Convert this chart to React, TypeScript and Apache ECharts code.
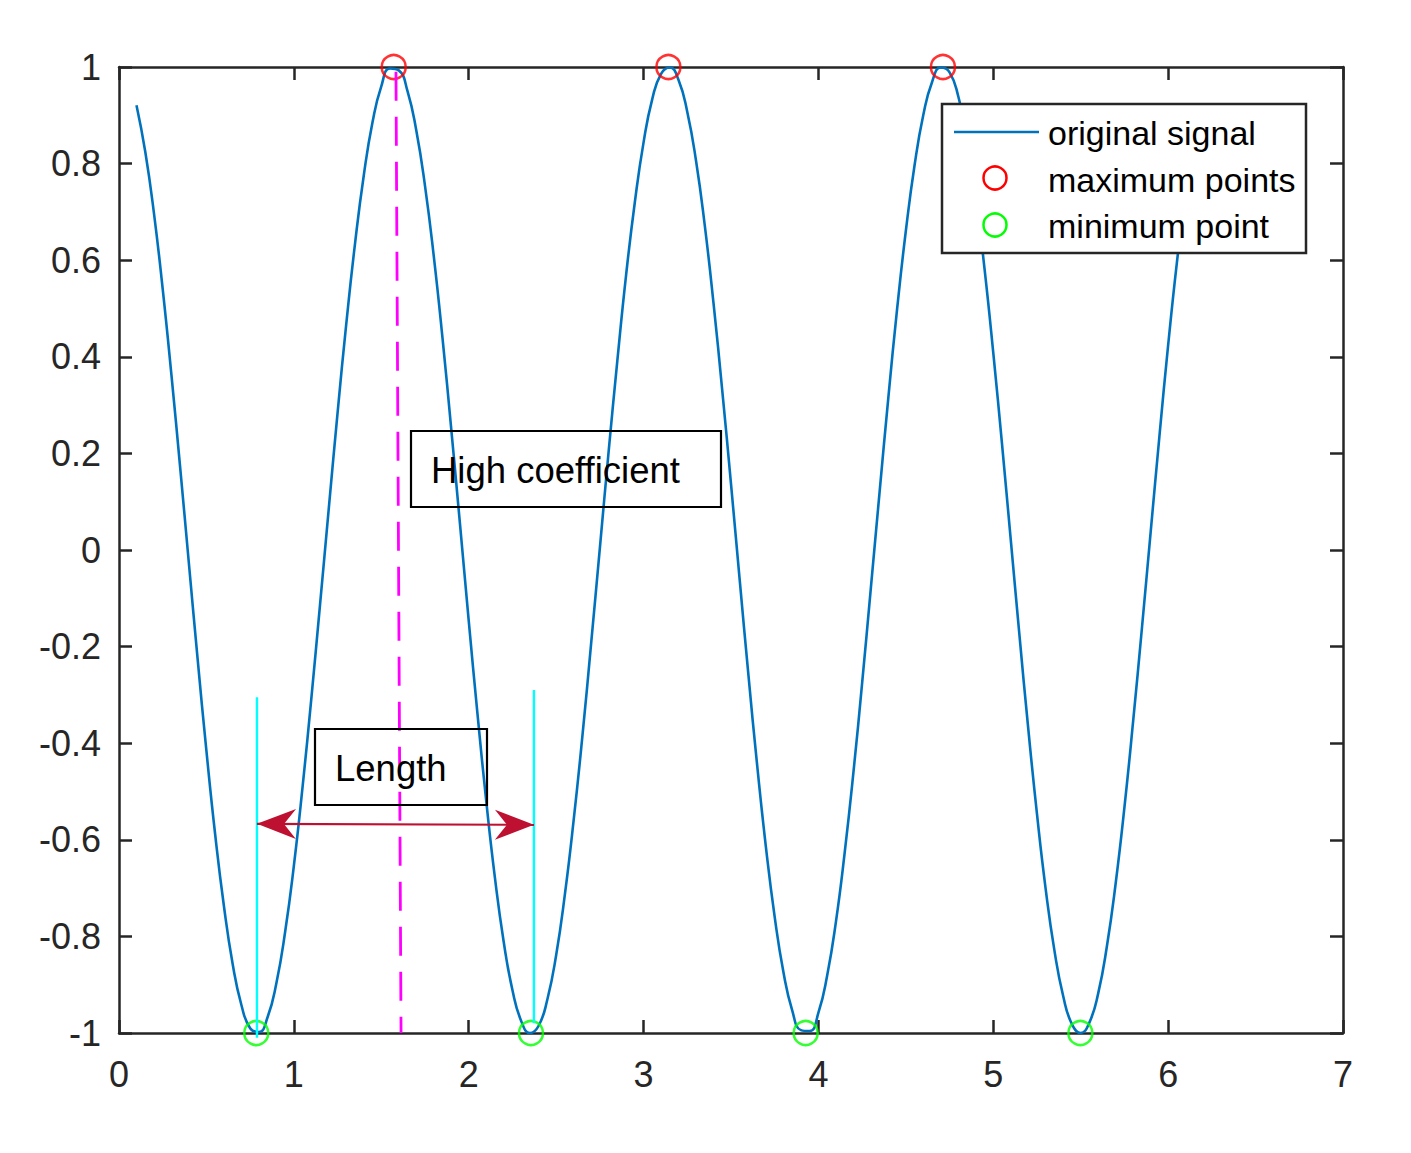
import React, { useEffect, useRef } from "react";
import * as echarts from "echarts";

// ---- data ----
const X_TICKS_MIN = 0;
const X_TICKS_MAX = 7;
const Y_MIN = -1;
const Y_MAX = 1;

// original signal, sampled every 0.05 starting at x = 0.1
const SIGNAL_X0 = 0.1;
const SIGNAL_DX = 0.05;
const SIGNAL_Y = [
  0.921, 0.825, 0.697, 0.540, 0.362, 0.170, -0.029, -0.227, -0.416, -0.589,
  -0.737, -0.857, -0.942, -0.990, -0.998, -0.967, -0.897, -0.791, -0.654, -0.490,
  -0.307, -0.112, 0.087, 0.284, 0.469, 0.635, 0.776, 0.886, 0.960, 0.997,
  0.993, 0.950, 0.869, 0.754, 0.609, 0.439, 0.251, 0.054, -0.146, -0.339,
  -0.519, -0.679, -0.811, -0.911, -0.975, -1.000, -0.985, -0.930, -0.839, -0.713,
  -0.560, -0.386, -0.194, 0.004, 0.203, 0.392, 0.569, 0.720, 0.844, 0.934,
  0.986, 0.999, 0.973, 0.907, 0.806, 0.672, 0.511, 0.330, 0.137, -0.063,
  -0.260, -0.447, -0.616, -0.760, -0.874, -0.953, -0.994, -0.996, -0.958, -0.881,
  -0.770, -0.627, -0.461, -0.275, -0.078, 0.121, 0.316, 0.499, 0.661, 0.797,
  0.901, 0.969, 0.999, 0.989, 0.939, 0.853, 0.732, 0.582, 0.408, 0.219,
  0.021, -0.178, -0.370, -0.547, -0.703, -0.830, -0.924, -0.982, -1.000, -0.978,
  -0.918, -0.820, -0.690, -0.533, -0.354, -0.162, 0.037, 0.235, 0.424, 0.595,
  0.743, 0.861,
];

const MAX_X = [1.571, 3.142, 4.712];
const MAX_Y = [1, 1, 1];
const MIN_X = [0.785, 2.356, 3.927, 5.498];
const MIN_Y = [-1, -1, -1, -1];

// annotation lines (data coordinates)
const CYAN_LINE_1 = [[0.789, -1.01], [0.789, -0.305]];
const CYAN_LINE_2 = [[2.373, -0.98], [2.373, -0.29]];
const MAGENTA_LINE = [[1.584, 0.99], [1.613, -1.0]];
const ARROW = [[0.789, -0.567, 2.373, -0.569]];

const LEGEND_LABELS = ["original signal", "maximum points", "minimum point"];
const NOTE_HIGH = "High coefficient";
const NOTE_LENGTH = "Length";

const FONT = '"Liberation Sans", Arial, Helvetica, sans-serif';
const AXIS_COLOR = "#262626";
const BLUE = "#0072BD";
const ARROW_COLOR = "#BE1030";

export default function App() {
  const ref = useRef<HTMLDivElement>(null);

  useEffect(() => {
    if (!ref.current) return;
    const chart = echarts.init(ref.current, undefined, { renderer: "svg" });

    const signal = SIGNAL_Y.map((y, i) => [SIGNAL_X0 + i * SIGNAL_DX, y]);
    const maxPts = MAX_X.map((x, i) => [x, MAX_Y[i]]);
    const minPts = MIN_X.map((x, i) => [x, MIN_Y[i]]);

    const axisLineStyle = { color: AXIS_COLOR, width: 2.5 };
    const baseX = {
      type: "value" as const,
      min: X_TICKS_MIN,
      max: X_TICKS_MAX,
      interval: 1,
      splitLine: { show: false },
      axisLine: { show: true, onZero: false, lineStyle: axisLineStyle },
      axisTick: { show: true, inside: true, length: 13, lineStyle: axisLineStyle },
    };
    const baseY = {
      type: "value" as const,
      min: Y_MIN,
      max: Y_MAX,
      interval: 0.2,
      splitLine: { show: false },
      axisLine: { show: true, onZero: false, lineStyle: axisLineStyle },
      axisTick: { show: true, inside: true, length: 13, lineStyle: axisLineStyle },
    };

    const arrowRender = (params: any, api: any) => {
      const a = api.coord([api.value(0), api.value(1)]);
      const b = api.coord([api.value(2), api.value(3)]);
      const dx = b[0] - a[0];
      const dy = b[1] - a[1];
      const len = Math.hypot(dx, dy) || 1;
      const ux = dx / len;
      const uy = dy / len;
      const nx = -uy;
      const ny = ux;
      const L = 39;
      const W = 15;
      const N = 27;
      const head = (t: number[], d: number[]) => [
        [t[0], t[1]],
        [t[0] + d[0] * L + nx * W, t[1] + d[1] * L + ny * W],
        [t[0] + d[0] * N, t[1] + d[1] * N],
        [t[0] + d[0] * L - nx * W, t[1] + d[1] * L - ny * W],
      ];
      return {
        type: "group",
        children: [
          {
            type: "line",
            shape: { x1: a[0], y1: a[1], x2: b[0], y2: b[1] },
            style: { stroke: ARROW_COLOR, lineWidth: 2.2 },
          },
          { type: "polygon", shape: { points: head(a, [ux, uy]) }, style: { fill: ARROW_COLOR } },
          { type: "polygon", shape: { points: head(b, [-ux, -uy]) }, style: { fill: ARROW_COLOR } },
        ],
      };
    };

    const option: any = {
      animation: false,
      backgroundColor: "#ffffff",
      grid: { left: 119, top: 67, width: 1224, height: 966, containLabel: false },
      xAxis: [
        {
          ...baseX,
          position: "bottom",
          axisLabel: { show: true, fontSize: 36, color: AXIS_COLOR, fontFamily: FONT, margin: 23 },
        },
        { ...baseX, position: "top", axisLabel: { show: false } },
      ],
      yAxis: [
        {
          ...baseY,
          position: "left",
          axisLabel: {
            show: true,
            fontSize: 36,
            color: AXIS_COLOR,
            fontFamily: FONT,
            margin: 18,
            formatter: (v: number) => String(Math.round(v * 10) / 10),
          },
        },
        { ...baseY, position: "right", axisLabel: { show: false } },
      ],
      series: [
        {
          name: LEGEND_LABELS[0],
          type: "line",
          data: signal,
          smooth: 0.5,
          showSymbol: false,
          lineStyle: { color: BLUE, width: 2.6 },
          itemStyle: { color: BLUE },
          z: 2,
        },
        {
          name: LEGEND_LABELS[1],
          type: "scatter",
          data: maxPts,
          symbol: "circle",
          symbolSize: 24,
          itemStyle: { color: "rgba(0,0,0,0)", borderColor: "#FF0000", borderWidth: 2.5 },
          z: 3,
        },
        {
          name: LEGEND_LABELS[2],
          type: "scatter",
          data: minPts,
          symbol: "circle",
          symbolSize: 24,
          itemStyle: { color: "rgba(0,0,0,0)", borderColor: "#00FF00", borderWidth: 2.5 },
          z: 3,
        },
        {
          type: "line",
          data: CYAN_LINE_1,
          showSymbol: false,
          clip: false,
          lineStyle: { color: "#00FFFF", width: 2.4 },
          z: 4,
        },
        {
          type: "line",
          data: CYAN_LINE_2,
          showSymbol: false,
          clip: false,
          lineStyle: { color: "#00FFFF", width: 2.4 },
          z: 4,
        },
        {
          type: "line",
          data: MAGENTA_LINE,
          showSymbol: false,
          lineStyle: { color: "#FF00FF", width: 2.8, type: [29, 16] },
          z: 4,
        },
        {
          type: "custom",
          data: ARROW,
          clip: false,
          silent: true,
          renderItem: arrowRender,
          z: 5,
        },
      ],
      graphic: [
        // text annotations (figure coordinates)
        {
          type: "rect",
          z: 10,
          shape: { x: 411, y: 431, width: 310, height: 76 },
          style: { fill: "none", stroke: "#000000", lineWidth: 2.2 },
        },
        {
          type: "text",
          z: 10,
          x: 431,
          y: 470,
          style: { text: NOTE_HIGH, font: `36.5px ${FONT}`, fill: "#000000", verticalAlign: "middle", align: "left" },
        },
        {
          type: "rect",
          z: 10,
          shape: { x: 315, y: 729, width: 172, height: 76 },
          style: { fill: "none", stroke: "#000000", lineWidth: 2.2 },
        },
        {
          type: "text",
          z: 10,
          x: 335,
          y: 768,
          style: { text: NOTE_LENGTH, font: `36.5px ${FONT}`, fill: "#000000", verticalAlign: "middle", align: "left" },
        },
        // legend
        {
          type: "rect",
          z: 20,
          shape: { x: 942, y: 104, width: 364, height: 149 },
          style: { fill: "#ffffff", stroke: AXIS_COLOR, lineWidth: 2.5 },
        },
        {
          type: "line",
          z: 21,
          shape: { x1: 954, y1: 132, x2: 1039, y2: 132 },
          style: { stroke: BLUE, lineWidth: 2.6 },
        },
        {
          type: "circle",
          z: 21,
          shape: { cx: 995, cy: 178, r: 11.5 },
          style: { fill: "none", stroke: "#FF0000", lineWidth: 2.5 },
        },
        {
          type: "circle",
          z: 21,
          shape: { cx: 995, cy: 225, r: 11.5 },
          style: { fill: "none", stroke: "#00FF00", lineWidth: 2.5 },
        },
        {
          type: "text",
          z: 21,
          x: 1048,
          y: 133,
          style: { text: LEGEND_LABELS[0], font: `34px ${FONT}`, fill: "#000000", verticalAlign: "middle" },
        },
        {
          type: "text",
          z: 21,
          x: 1048,
          y: 180,
          style: { text: LEGEND_LABELS[1], font: `34px ${FONT}`, fill: "#000000", verticalAlign: "middle" },
        },
        {
          type: "text",
          z: 21,
          x: 1048,
          y: 226,
          style: { text: LEGEND_LABELS[2], font: `34px ${FONT}`, fill: "#000000", verticalAlign: "middle" },
        },
      ],
    };

    chart.setOption(option);
    return () => chart.dispose();
  }, []);

  return (
    <div
      ref={ref}
      style={{ position: "absolute", left: 0, top: 0, width: 1411, height: 1153, background: "#ffffff" }}
    />
  );
}
